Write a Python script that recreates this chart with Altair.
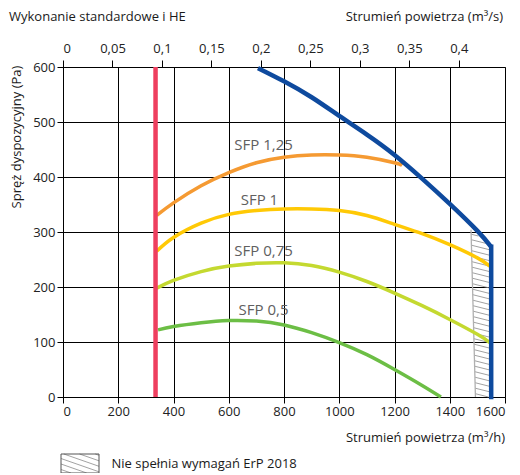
import altair as alt
import pandas as pd
import numpy as np

FONT = "Open Sans"

# ---- data (x: m3/h, y: Pa) ----
sfp_names = ["SFP 1,25", "SFP 1", "SFP 0,75", "SFP 0,5"]
sfp_colors = ["#F59A32", "#FFC905", "#C4D930", "#6CBE45"]

x_sfp125 = [339, 400, 500, 600, 700, 800, 900, 1000, 1100, 1200, 1228]
y_sfp125 = [330, 353, 384, 408, 426, 436, 440, 440, 436, 426, 421]

x_sfp100 = [339, 400, 500, 600, 700, 800, 900, 1000, 1100, 1200, 1300, 1400, 1500, 1545]
y_sfp100 = [265, 290, 316, 332, 339, 342, 342, 339, 330, 314, 297, 277, 253, 238]

x_sfp075 = [339, 400, 500, 600, 700, 800, 900, 1000, 1100, 1200, 1300, 1400, 1500, 1545]
y_sfp075 = [198, 212, 228, 238, 243, 244, 239, 227, 210, 189, 166, 141, 114, 99]

x_sfp050 = [344, 400, 500, 600, 700, 800, 900, 1000, 1100, 1200, 1300, 1368]
y_sfp050 = [122, 128, 135, 139, 138, 131, 117, 99, 77, 50, 21, 0]

x_max = [706, 800, 900, 1000, 1100, 1200, 1300, 1400, 1500, 1550]
y_max = [598, 574, 545, 511, 477, 440, 397, 351, 302, 273]
x_max_drop = [1550, 1550]
y_max_drop = [273, 0]

x_min = [335, 335]
y_min = [0, 600]

# ErP 2018 not-met region polygon (left-bottom, left-top, right-top, right-bottom)
erp_x = [1493, 1477, 1550, 1550]
erp_y = [0, 304, 273, 0]

label_x = [726, 711, 726, 726]
label_y = [459, 359, 265, 159]

x_ticks = [0, 200, 400, 600, 800, 1000, 1200, 1400, 1600]
y_ticks = [0, 100, 200, 300, 400, 500, 600]
top_ticks = [0, 0.05, 0.1, 0.15, 0.2, 0.25, 0.3, 0.35, 0.4]

W, H = 442, 330

xs = alt.Scale(domain=[0, 1600], nice=False, zero=False)
ys = alt.Scale(domain=[0, 600], nice=False, zero=False)

xaxis = alt.Axis(values=x_ticks, grid=True, gridColor="black", gridOpacity=1, gridWidth=1,
                 domainColor="black", tickColor="black", tickSize=6, labelPadding=2,
                 labelFont=FONT, labelFontSize=13, labelColor="#222", format="d", title=None)
yaxis = alt.Axis(values=y_ticks, grid=True, gridColor="black", gridOpacity=1, gridWidth=1,
                 domainColor="black", tickColor="black", tickSize=6, labelPadding=2,
                 labelFont=FONT, labelFontSize=13, labelColor="#222", format="d", title=None)

# SFP curves
rows = []
for name, xv, yv in zip(sfp_names, [x_sfp125, x_sfp100, x_sfp075, x_sfp050],
                        [y_sfp125, y_sfp100, y_sfp075, y_sfp050]):
    for i, (a, b) in enumerate(zip(xv, yv)):
        rows.append({"series": name, "x": a, "y": b, "i": i})
sfp_df = pd.DataFrame(rows)

grid_base = alt.Chart(pd.DataFrame({"x": [0], "y": [0]})).mark_point(opacity=0).encode(
    x=alt.X("x:Q", scale=xs, axis=xaxis),
    y=alt.Y("y:Q", scale=ys, axis=yaxis),
)

# hatch segments derived from polygon
slope = 0.126
bl_x, tl_x, tr_x = erp_x[0], erp_x[1], erp_x[2]
tl_y, tr_y = erp_y[1], erp_y[2]
bs = (tr_y - tl_y) / (tr_x - tl_x)
hrows = []
for yl in np.arange(6, tl_y, 10):
    xl = bl_x + (tl_x - bl_x) * yl / tl_y
    xr = tr_x
    yr = yl - slope * (xr - xl)
    if yr < 0:
        xr = xl + yl / slope
        yr = 0
    yb = tl_y + bs * (xr - tl_x)
    if yr > yb:
        xx = (yl + slope * xl - tl_y + bs * tl_x) / (slope + bs)
        xr = xx
        yr = yl - slope * (xx - xl)
    hrows.append({"x": xl, "y": yl, "x2": xr, "y2": yr})
hatch_df = pd.DataFrame(hrows)

hatch = alt.Chart(hatch_df).mark_rule(color="#8a8a8a", strokeWidth=0.8).encode(
    x=alt.X("x:Q", scale=xs), y=alt.Y("y:Q", scale=ys), x2="x2:Q", y2="y2:Q")

edge_df = pd.DataFrame({"x": [erp_x[0]], "y": [erp_y[0]], "x2": [erp_x[1]], "y2": [erp_y[1]]})
hatch_edge = alt.Chart(edge_df).mark_rule(color="#b0b0b0", strokeWidth=1.3).encode(
    x=alt.X("x:Q", scale=xs), y=alt.Y("y:Q", scale=ys), x2="x2:Q", y2="y2:Q")

sfp_lines = alt.Chart(sfp_df).mark_line(interpolate="natural", strokeWidth=3.5).encode(
    x=alt.X("x:Q", scale=xs),
    y=alt.Y("y:Q", scale=ys),
    color=alt.Color("series:N", scale=alt.Scale(domain=sfp_names, range=sfp_colors), legend=None),
    order="i:Q",
)

BLUE = "#0E4A9E"
max_df = pd.DataFrame({"x": x_max, "y": y_max, "i": list(range(len(x_max)))})
max_line = alt.Chart(max_df).mark_line(color=BLUE, strokeWidth=4.5, interpolate="natural").encode(
    x=alt.X("x:Q", scale=xs), y=alt.Y("y:Q", scale=ys), order="i:Q")
drop_df = pd.DataFrame({"x": x_max_drop, "y": y_max_drop})
max_drop = alt.Chart(drop_df).mark_line(color=BLUE, strokeWidth=4.5, strokeCap="square").encode(
    x=alt.X("x:Q", scale=xs), y=alt.Y("y:Q", scale=ys))

min_df = pd.DataFrame({"x": x_min, "y": y_min})
min_line = alt.Chart(min_df).mark_line(color="#EE3F5F", strokeWidth=4.5).encode(
    x=alt.X("x:Q", scale=xs), y=alt.Y("y:Q", scale=ys))

lab_df = pd.DataFrame({"x": label_x, "y": label_y, "t": sfp_names})
labels = alt.Chart(lab_df).mark_text(font=FONT, fontSize=15, color="#606060",
                                     align="center", baseline="middle").encode(
    x=alt.X("x:Q", scale=xs), y=alt.Y("y:Q", scale=ys), text="t:N")

main = alt.layer(grid_base, hatch, hatch_edge, sfp_lines, max_line, max_drop, min_line, labels)

# top axis in m3/s
top_df = pd.DataFrame({"q": [0.0]})
top_axis = alt.Chart(top_df).mark_point(opacity=0).encode(
    x=alt.X("q:Q", scale=alt.Scale(domain=[0, 0.4467], nice=False, zero=False),
            axis=alt.Axis(orient="top", values=top_ticks, grid=False, domainColor="black",
                          tickColor="black", tickSize=7, labelPadding=5,
                          labelFont=FONT, labelFontSize=13, labelColor="#222", title=None,
                          labelExpr="replace(format(datum.value, '.2~f'), '.', ',')")),
    y=alt.value(0),
)

def txt(s, x, y, size=13, align="left", baseline="alphabetic", angle=0, weight="normal"):
    return alt.Chart(pd.DataFrame({"t": [s]})).mark_text(
        font=FONT, fontSize=size, align=align, baseline=baseline, angle=angle,
        fontWeight=weight, color="#1a1a1a").encode(
        x=alt.value(x), y=alt.value(y), text="t:N")

texts = [
    txt("Wydajność", -55, -64, size=20, weight="bold"),
    txt("Wykonanie standardowe i HE", -54, -46.5),
    txt("Strumień powietrza (m³/s)", 440, -46.5, align="right"),
    txt("Strumień powietrza (m³/h)", 442, 374.5, align="right"),
    txt("Spręż dyspozycyjny (Pa)", -46, 70, angle=270, align="center", baseline="middle"),
    txt("Nie spełnia wymagań ErP 2018", 48.5, 401),
]

# legend swatch (pixel space)
sw_x0, sw_x1, sw_y0, sw_y1 = -2, 36, 387, 406
k = 0.35
srows = []
for c in np.arange(sw_y0 - 12, sw_y1, 5.5):
    xa, ya = sw_x0, c
    if ya < sw_y0:
        xa = sw_x0 + (sw_y0 - c) / k
        ya = sw_y0
    xb = sw_x1
    yb = c + k * (sw_x1 - sw_x0)
    if yb > sw_y1:
        xb = sw_x0 + (sw_y1 - c) / k
        yb = sw_y1
    if xa < xb and xa <= sw_x1:
        srows.append({"x": xa, "y": ya, "x2": xb, "y2": yb})
sw_df = pd.DataFrame(srows)
sw_lines = alt.Chart(sw_df).mark_rule(color="#8a8a8a", strokeWidth=0.8).encode(
    x=alt.X("x:Q", scale=None), y=alt.Y("y:Q", scale=None),
    x2="x2:Q", y2="y2:Q")
sw_box = alt.Chart(pd.DataFrame({"a": [0]})).mark_rect(
    fillOpacity=0, stroke="#555", strokeWidth=1).encode(
    x=alt.value(sw_x0), x2=alt.value(sw_x1), y=alt.value(sw_y0), y2=alt.value(sw_y1))

chart = alt.layer(main, top_axis, sw_lines, sw_box, *texts).resolve_scale(
    x="independent"
).properties(
    width=W, height=H,
    padding={"left": 55, "top": 59, "right": 6, "bottom": 76},
    autosize=alt.AutoSizeParams(type="none"),
).configure_view(stroke=None)

chart.save("out.html", embed_options={"renderer": "svg", "actions": False})
